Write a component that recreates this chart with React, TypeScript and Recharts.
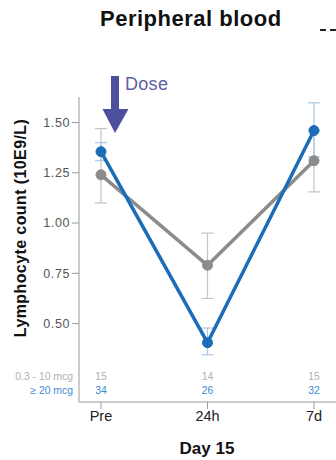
import { LineChart, Line, XAxis, YAxis, ErrorBar } from 'recharts';

const days = ['Pre', '24h', '7d'];

// 0.3 - 10 mcg cohort
const lowDose = [1.24, 0.79, 1.31];
const lowDoseLo = [1.1, 0.625, 1.155];
const lowDoseHi = [1.47, 0.95, 1.46];
const lowDoseN = [15, 14, 15];

// >= 20 mcg cohort
const highDose = [1.355, 0.405, 1.46];
const highDoseLo = [1.31, 0.345, 1.33];
const highDoseHi = [1.4, 0.478, 1.598];
const highDoseN = [34, 26, 32];

const yTicks = [0.5, 0.75, 1.0, 1.25, 1.5];

const GRAY = '#8c8c8c';
const BLUE = '#1a6db6';
const FONT = '"Liberation Sans", Arial, sans-serif';

const data = days.map((day, i) => ({
  day,
  low: lowDose[i],
  lowErr: [lowDose[i] - lowDoseLo[i], lowDoseHi[i] - lowDose[i]],
  high: highDose[i],
  highErr: [highDose[i] - highDoseLo[i], highDoseHi[i] - highDose[i]],
}));

// tick also carries the n counts shown above the axis
const XTick = ({ x, y, payload }: any) => {
  const i = days.indexOf(payload.value);
  return (
    <g fontFamily={FONT}>
      <text x={x} y={y - 31} textAnchor="middle" fontSize={10.4} fill="#b0b0b0">
        {lowDoseN[i]}
      </text>
      <text x={x} y={y - 17} textAnchor="middle" fontSize={10.4} fill="#3d8ad2">
        {highDoseN[i]}
      </text>
      <text x={x} y={y} dy="0.71em" textAnchor="middle" fontSize={14.5} fill="#222">
        {payload.value}
      </text>
    </g>
  );
};

export default function App() {
  return (
    <div style={{
      position: 'absolute',
      left: 0,
      top: 0,
      width: 336,
      height: 460,
      overflow: 'hidden',
      background: '#fff',
      fontFamily: FONT,
    }}>
      <LineChart
        width={420}
        height={460}
        data={data}
        margin={{ top: 97, right: 0, bottom: 0, left: 0 }}
      >
        <XAxis
          dataKey="day"
          height={58}
          padding={{ left: 22, right: 106 }}
          tick={<XTick />}
          tickSize={7}
          tickMargin={2}
          axisLine={{ stroke: '#999' }}
          tickLine={{ stroke: '#999' }}
        />
        <YAxis
          width={79}
          domain={[0.11, 1.627]}
          ticks={yTicks}
          allowDataOverflow
          tickFormatter={(v: number) => v.toFixed(2)}
          tick={{ fontSize: 12.5, fill: '#555', fontFamily: FONT, letterSpacing: 0.6 }}
          tickSize={7}
          tickMargin={2}
          axisLine={{ stroke: '#999' }}
          tickLine={{ stroke: '#999' }}
        />
        <Line
          dataKey="low"
          stroke={GRAY}
          strokeWidth={3.5}
          dot={{ r: 5, fill: GRAY, stroke: GRAY, strokeWidth: 1 }}
          isAnimationActive={false}
        >
          <ErrorBar dataKey="lowErr" direction="y" width={6} stroke="#c4c4c4" strokeWidth={1.2} />
        </Line>
        <Line
          dataKey="high"
          stroke={BLUE}
          strokeWidth={3.5}
          dot={{ r: 5, fill: BLUE, stroke: BLUE, strokeWidth: 1 }}
          isAnimationActive={false}
        >
          <ErrorBar dataKey="highErr" direction="y" width={6} stroke="#a9c8e6" strokeWidth={1.2} />
        </Line>
      </LineChart>

      <div style={{
        position: 'absolute', left: 100, top: 6, fontSize: 22, fontWeight: 'bold',
        color: '#111', letterSpacing: 0.5, whiteSpace: 'nowrap',
      }}>
        Peripheral blood
      </div>

      <svg style={{ position: 'absolute', left: 0, top: 0 }} width={336} height={360}>
        <rect x={320} y={29} width={6} height={2} fill="#222" />
        <rect x={330} y={29} width={6} height={2} fill="#222" />
        <rect x={111} y={76} width={8} height={34} fill="#4b4f9c" />
        <polygon points="102.5,109 128.5,109 115,133" fill="#4b4f9c" />
        <text
          transform="translate(20, 228) rotate(-90)"
          textAnchor="middle"
          dominantBaseline="central"
          fontFamily={FONT}
          fontSize={16}
          fontWeight="bold"
          letterSpacing={0.4}
          fill="#111"
        >
          Lymphocyte count (10E9/L)
        </text>
      </svg>
      <div style={{
        position: 'absolute', left: 125, top: 74, fontSize: 18, color: '#5c5fa6', letterSpacing: 0.3,
      }}>
        Dose
      </div>

      <div style={{
        position: 'absolute', right: 336 - 73, top: 370.5, fontSize: 10.4, color: '#b0b0b0',
        whiteSpace: 'nowrap',
      }}>
        0.3 - 10 mcg
      </div>
      <div style={{
        position: 'absolute', right: 336 - 73, top: 384.5, fontSize: 10.4, color: '#3d8ad2',
        whiteSpace: 'nowrap',
      }}>
        ≥ 20 mcg
      </div>

      <div style={{
        position: 'absolute', left: 207, top: 438.5, transform: 'translateX(-50%)',
        fontSize: 17, fontWeight: 'bold', color: '#111', whiteSpace: 'nowrap',
      }}>
        Day 15
      </div>
    </div>
  );
}
